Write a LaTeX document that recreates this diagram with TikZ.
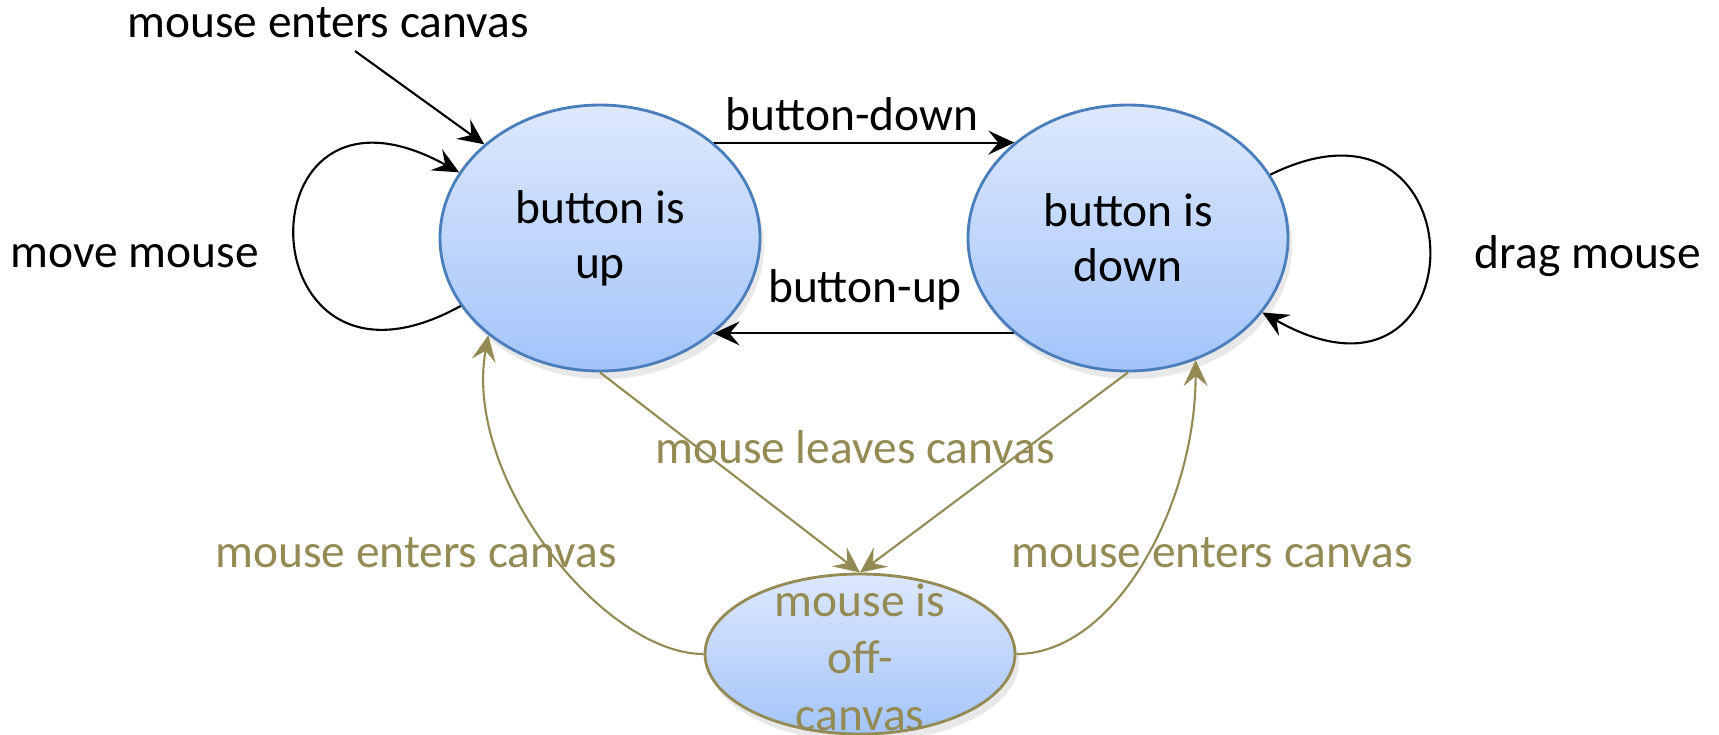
\documentclass[tikz,border=0pt]{standalone}
\usepackage{fontspec}
\setmainfont{Carlito}
\usetikzlibrary{shapes.geometric,arrows.meta,shadows}
\definecolor{stateTop}{RGB}{221,232,253}
\definecolor{stateBot}{RGB}{163,196,250}
\definecolor{stateEdge}{RGB}{74,126,187}
\definecolor{canvasOlive}{RGB}{148,138,84}
\begin{document}
\begin{tikzpicture}[x=0.1mm, y=-0.1mm, font=\fontsize{13.5}{15.6}\selectfont, line join=round,
		>={Stealth[length=2.6mm,width=2.4mm,inset=1mm]},
		state/.style={ellipse, draw=stateEdge, line width=0.8pt, top color=stateTop, bottom color=stateBot,
			inner sep=0pt, minimum width=32mm, minimum height=26.6mm, align=center,
			drop shadow={opacity=0.18, shadow xshift=0.4mm, shadow yshift=-0.8mm}},
		trans/.style={->, line width=0.6pt},
		leave/.style={->, line width=0.6pt, draw=canvasOlive, fill=none},
		lbl/.style={anchor=base, inner sep=0pt},
		olivelbl/.style={lbl, text=canvasOlive}]
			\useasboundingbox (0,0) rectangle (1719,734);
			\node[state] (up) at (600,238) {button is\\up};
			\node[state] (down) at (1128,238) {button is\\down};
			\node[state, draw=canvasOlive, minimum width=31mm, minimum height=16mm] (off) at (860,654) {};
			\coordinate (entry) at (355,51);
			\node[lbl] (enterlbl) at (328,37) {mouse enters canvas};
			\draw[trans] (entry) -- (up.141);
			\draw[trans] (up.206) .. controls +(-217,120) and +(-223,-123) .. (up.155);
			\node[lbl] (movelbl) at (135,267) {move mouse};
			\draw[trans] (down.24) .. controls +(213,-105) and +(220,125) .. (down.-29);
			\node[lbl] (draglbl) at (1588,268) {drag mouse};
			\draw[trans] (up.40) -- (down.140);
			\node[lbl] (downlbl) at (852,130) {button-down};
			\draw[trans] (down.220) -- (up.-40);
			\node[lbl] (uplbl) at (865,302) {button-up};
			\draw[leave] (up.south) -- (off.north);
			\draw[leave] (down.south) -- (off.north);
			\node[olivelbl] (leavelbl) at (855,463) {mouse leaves canvas};
			\draw[leave] (off.west) .. controls +(-100,0) and +(-26,143) .. (up.221);
			\node[olivelbl] (backuplbl) at (416,567) {mouse enters canvas};
			\draw[leave] (off.east) .. controls +(100,0) and +(0,143) .. (down.-61);
			\node[olivelbl] (backdownlbl) at (1212,567) {mouse enters canvas};
			\node[text=canvasOlive, align=center, inner sep=0pt, font=\fontsize{13.5}{16.2}\selectfont] (offtext) at ([yshift=-1pt]off.center) {mouse is\\off-\\canvas};
	\end{tikzpicture}
\end{document}
